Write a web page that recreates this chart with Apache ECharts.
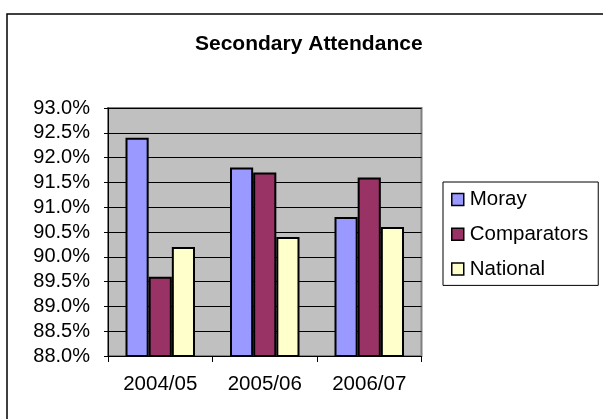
<!DOCTYPE html>
<html>
<head>
<meta charset="utf-8">
<script src="https://cdn.jsdelivr.net/npm/echarts@6/dist/echarts.min.js"></script>
<style>
html,body{margin:0;padding:0;background:#fff;}
#chart{width:603px;height:419px;}
</style>
</head>
<body>
<div id="chart"></div>
<script>
const categories = ['2004/05', '2005/06', '2006/07'];
const moray = [92.4, 91.8, 90.8];
const comparators = [89.6, 91.7, 91.6];
const national = [90.2, 90.4, 90.6];
const yMin = 88, yMax = 93, yStep = 0.5;

const FONT = '"Liberation Sans", Arial, sans-serif';
const chart = echarts.init(document.getElementById('chart'), null, {renderer: 'canvas'});
const barStyle = (c) => ({color: c, borderColor: '#000', borderWidth: 2});

chart.setOption({
  animation: false,
  backgroundColor: '#fff',
  title: {
    text: 'Secondary Attendance',
    left: 195, top: 34, padding: 0,
    textStyle: {fontFamily: FONT, fontSize: 21, fontWeight: 'bold', color: '#000'}
  },
  graphic: [{
    type: 'rect', silent: true, z: -1,
    shape: {x: 7, y: 14, width: 700, height: 500},
    style: {fill: 'none', stroke: '#000', lineWidth: 1.5}
  }],
  legend: {
    orient: 'vertical',
    left: 443, top: 182,
    padding: [7, 10, 6, 8],
    borderColor: '#000', borderWidth: 1,
    itemWidth: 12, itemHeight: 12, itemGap: 13.7,
    icon: 'rect',
    itemStyle: {borderColor: '#000', borderWidth: 1.5},
    textStyle: {fontFamily: FONT, fontSize: 20.5, color: '#000', lineHeight: 20, padding: [0, 0, 0, 1]},
    data: ['Moray', 'Comparators', 'National']
  },
  grid: {
    left: 108, top: 108, width: 313.5, height: 248,
    show: true, backgroundColor: '#C0C0C0', borderColor: '#808080', borderWidth: 2,
    containLabel: false
  },
  xAxis: {
    type: 'category', data: categories,
    axisLine: {lineStyle: {color: '#000', width: 1}},
    axisTick: {show: true, length: 6, lineStyle: {color: '#000'}},
    axisLabel: {fontFamily: FONT, fontSize: 20.5, color: '#000', margin: 18}
  },
  yAxis: {
    type: 'value', min: yMin, max: yMax, interval: yStep,
    axisLine: {show: true, lineStyle: {color: '#000', width: 1}},
    axisTick: {show: true, length: 4, lineStyle: {color: '#000'}},
    splitLine: {show: true, lineStyle: {color: '#000', width: 1}},
    axisLabel: {fontFamily: FONT, fontSize: 20, color: '#000', margin: 18,
      formatter: (v) => v.toFixed(1) + '%'}
  },
  series: [
    {name: 'Moray', type: 'bar', data: moray, itemStyle: barStyle('#9999FF'), barGap: '0%', barCategoryGap: '33.5%'},
    {name: 'Comparators', type: 'bar', data: comparators, itemStyle: barStyle('#993366'), barGap: '0%', barCategoryGap: '33.5%'},
    {name: 'National', type: 'bar', data: national, itemStyle: barStyle('#FFFFCC'), barGap: '0%', barCategoryGap: '33.5%'}
  ]
});
</script>
</body>
</html>
